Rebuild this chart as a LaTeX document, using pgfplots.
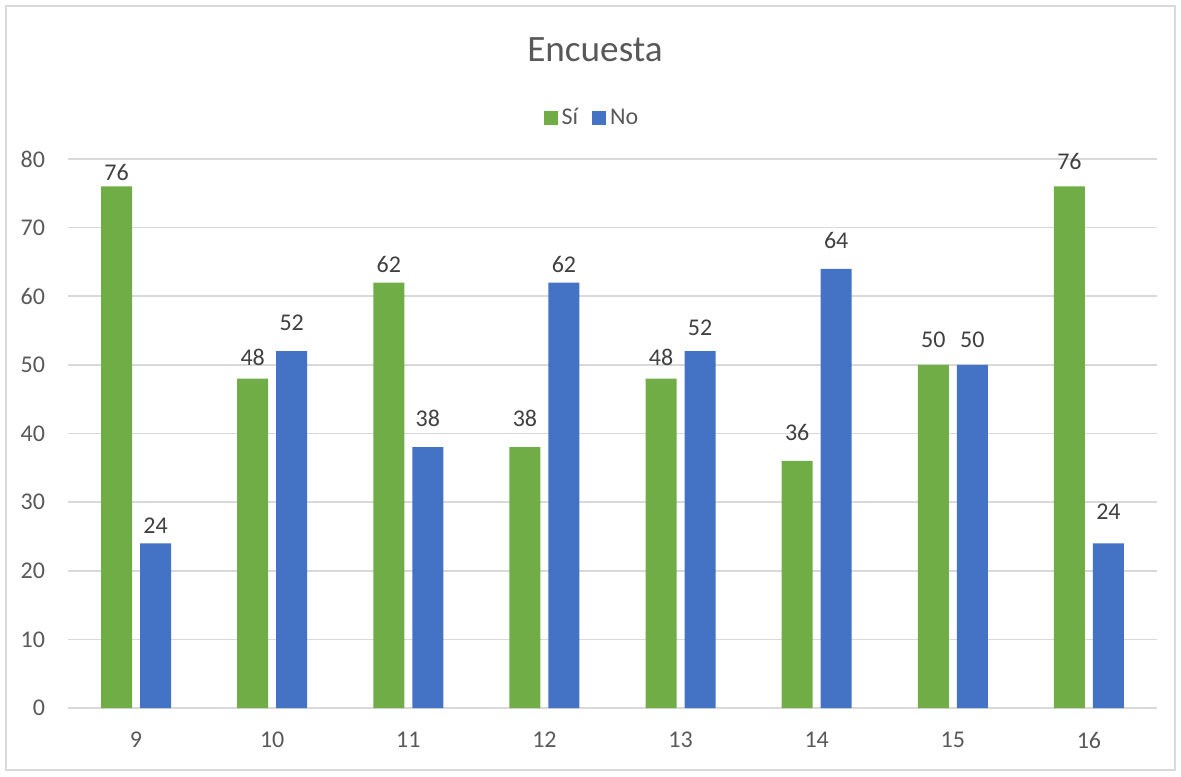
\documentclass[border=0pt]{standalone}
\usepackage{fontspec}
\setmainfont{Carlito}
\usepackage{pgfplots}
\usepackage{pgfplotstable}
\pgfplotsset{compat=1.18}
\definecolor{cgreen}{HTML}{70AD47}
\definecolor{cblue}{HTML}{4472C4}
\definecolor{cgrid}{HTML}{D9D9D9}
\definecolor{ctext}{HTML}{595959}
\definecolor{clab}{HTML}{404040}

\pgfplotstableread{
x y off
0 76 6.75
1 48 10.8
2 62 9.25
3 38 14.5
4 48 10.8
5 36 14
6 50 12.5
7 76 12.25
}\si
\pgfplotstableread{
x y off
0 24 9
1 52 14
2 38 14.5
3 62 9.25
4 52 11.5
5 64 14
6 50 12.5
7 24 16
}\no

\begin{document}
\begin{tikzpicture}
\useasboundingbox (0,0) rectangle (590.5pt,388pt);
\draw[cgrid, line width=0.75pt] (3pt,3pt) rectangle (587.5pt,385pt);
\node[font=\fontsize{18.6}{22}\selectfont, text=ctext] at (297.5pt,363pt) {Encuesta};
\begin{axis}[
  at={(34pt,34pt)}, anchor=south west,
  scale only axis, width=544.5pt, height=274.5pt,
  xmin=-0.5, xmax=7.5, ymin=0, ymax=80,
  ybar=4pt, bar width=15.5pt,
  xtick={0,...,7}, xticklabels={9,10,11,12,13,14,15,16},
  ytick={0,10,...,80},
  ymajorgrids, grid style={cgrid, line width=0.75pt},
  axis line style={draw=none},
  major tick length=0pt,
  tick label style={font=\fontsize{12}{14}\selectfont, text=ctext},
  /pgf/number format/assume math mode=true,
  xticklabel style={yshift=-8.5pt},
  yticklabel style={xshift=-8pt},
  clip=false,
  nodes near coords,
  visualization depends on={\thisrow{off} \as \off},
  every node near coord/.append style={font=\fontsize{12}{14}\selectfont, text=clab, anchor=center, yshift=\off*1pt},
  legend style={at={(0.482,1.0747)}, anchor=center, draw=none, fill=none,
    legend columns=2, font=\fontsize{12}{14}\selectfont, text=ctext,
    /tikz/every even column/.append style={column sep=5pt}},
  legend image code/.code={\fill[#1] (0pt,-3.5pt) rectangle (7pt,3.5pt);},
]
\addplot[fill=cgreen, draw=none] table[x=x,y=y] {\si};
\addlegendentry{Sí}
\addplot[fill=cblue, draw=none] table[x=x,y=y] {\no};
\addlegendentry{No}
\end{axis}
\end{tikzpicture}
\end{document}
